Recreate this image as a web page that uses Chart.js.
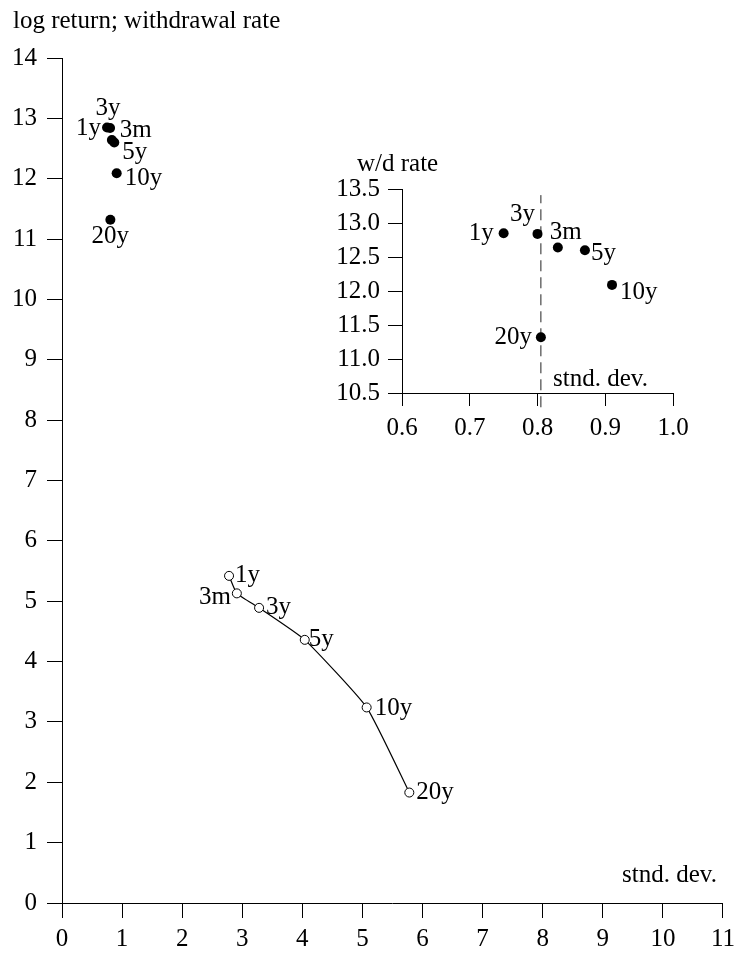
<!DOCTYPE html>
<html>
<head>
<meta charset="utf-8">
<script src="https://cdn.jsdelivr.net/npm/chart.js@4.4.0/dist/chart.umd.min.js"></script>
<style>
html, body { margin: 0; padding: 0; background: #fff; }
#wrap { position: relative; width: 741px; height: 954px; }
#main { position: absolute; left: 0; top: 0; width: 741px; height: 954px; }
#inset { position: absolute; left: 320px; top: 140px; width: 420px; height: 310px; }
</style>
</head>
<body>
<div id="wrap">
	<canvas id="main" width="741" height="954"></canvas>
	<canvas id="inset" width="420" height="310"></canvas>
</div>
<script>
// horizons, in the order the return curve is drawn
const horizons = ['1y', '3m', '3y', '5y', '10y', '20y'];

// log return vs stnd. dev. (open circles, joined)
const returnSd = [2.78, 2.91, 3.28, 4.04, 5.07, 5.78];
const logReturn = [5.42, 5.13, 4.89, 4.36, 3.24, 1.83];

// withdrawal rate vs stnd. dev. (filled dots, also in the inset)
const rateSd = [0.75, 0.83, 0.80, 0.87, 0.91, 0.805];
const wdRate = [12.85, 12.64, 12.84, 12.60, 12.09, 11.32];

// dashed reference line in the inset
const cutoffSd = 0.805;
const cutoffRange = [10.29, 13.41];

const FONT = '25px "Liberation Serif", "DejaVu Serif", serif';

// label placement next to each point: [dx, dy, align]
const returnLabelPos = [[6, 0, 'left'], [-6, 4, 'right'], [7, 0, 'left'], [4, 0, 'left'], [8, 1, 'left'], [7, 0, 'left']];
const rateLabelPosMain = [[-6, 1, 'right'], [8, -10, 'left'], [-2, -20, 'center'], [8, 10, 'left'], [8, 5, 'left'], [0, 17, 'center']];
const rateLabelPosInset = [[-10, 0, 'right'], [-8, -15, 'left'], [-15, -19, 'center'], [6, 3, 'left'], [8, 8, 'left'], [-9, 0, 'right']];

const notesPlugin = {
	id: 'notes',
	afterDatasetsDraw(chart, args, opts) {
		const ctx = chart.ctx;
		ctx.save();
		ctx.fillStyle = '#000';
		ctx.font = FONT;
		chart.data.datasets.forEach((ds, i) => {
			if (!ds.pointLabels) return;
			chart.getDatasetMeta(i).data.forEach((pt, j) => {
				const [dx, dy, align] = ds.labelPos[j];
				ctx.textAlign = align;
				ctx.textBaseline = 'middle';
				ctx.fillText(ds.pointLabels[j], pt.x + dx, pt.y + dy);
			});
		});
		(opts.texts || []).forEach(t => {
			ctx.textAlign = t.align || 'left';
			ctx.textBaseline = 'alphabetic';
			ctx.fillText(t.text, t.x, t.y);
		});
		ctx.restore();
	}
};

function axis(min, max, step, tickLen, pad, digits, fit) {
	return {
		type: 'linear',
		min: min,
		max: max,
		ticks: {
			stepSize: step,
			color: '#000',
			font: { family: '"Liberation Serif", serif', size: 25 },
			padding: pad,
			autoSkip: false,
			maxRotation: 0,
			callback: v => digits ? v.toFixed(digits) : v
		},
		grid: { drawOnChartArea: false, drawTicks: true, tickLength: tickLen, color: '#000', lineWidth: 1 },
		border: { display: true, color: '#000', width: 1 },
		afterFit: fit
	};
}

const pts = (xs, ys) => xs.map((x, i) => ({ x: x, y: ys[i] }));

new Chart(document.getElementById('main'), {
	type: 'scatter',
	data: {
		datasets: [{
			data: pts(returnSd, logReturn),
			showLine: true,
			borderColor: '#000',
			borderWidth: 1.2,
			tension: 0.15,
			pointRadius: 4.5,
			pointBackgroundColor: '#fff',
			pointBorderColor: '#000',
			pointBorderWidth: 1,
			pointLabels: horizons,
			labelPos: returnLabelPos
		}, {
			data: pts(rateSd, wdRate),
			showLine: false,
			pointRadius: 5,
			pointBackgroundColor: '#000',
			pointBorderColor: '#000',
			pointBorderWidth: 0,
			pointLabels: horizons,
			labelPos: rateLabelPosMain
		}]
	},
	options: {
		responsive: false,
		animation: false,
		devicePixelRatio: 1,
		layout: { padding: { left: 0, right: 15, top: 58, bottom: 0 } },
		plugins: {
			legend: { display: false },
			tooltip: { enabled: false },
			notes: {
				texts: [
					{ text: 'log return; withdrawal rate', x: 13, y: 28 },
					{ text: 'stnd. dev.', x: 717, y: 882, align: 'right' }
				]
			}
		},
		scales: {
			x: axis(0, 11, 1, 15, 6, 0, s => { s.height = 51; }),
			y: axis(0, 14, 1, 15, 10, 0, s => { s.width = 62; })
		}
	},
	plugins: [notesPlugin]
});

new Chart(document.getElementById('inset'), {
	type: 'scatter',
	data: {
		datasets: [{
			data: pts(rateSd, wdRate),
			showLine: false,
			pointRadius: 5,
			pointBackgroundColor: '#000',
			pointBorderColor: '#000',
			pointBorderWidth: 0,
			pointLabels: horizons,
			labelPos: rateLabelPosInset
		}, {
			data: cutoffRange.map(y => ({ x: cutoffSd, y: y })),
			showLine: true,
			borderColor: '#222',
			borderWidth: 1,
			borderDash: [11, 6],
			pointRadius: 0,
			clip: false
		}]
	},
	options: {
		responsive: false,
		animation: false,
		devicePixelRatio: 1,
		layout: { padding: { left: 0, right: 67, top: 49, bottom: 0 } },
		plugins: {
			legend: { display: false },
			tooltip: { enabled: false },
			notes: {
				texts: [
					{ text: 'w/d rate', x: 37, y: 31 },
					{ text: 'stnd. dev.', x: 233, y: 246 }
				]
			}
		},
		scales: {
			x: axis(0.6, 1.0, 0.1, 13, 7, 1, s => { s.height = 57; }),
			y: axis(10.5, 13.5, 0.5, 14, 8, 1, s => { s.width = 82; })
		}
	},
	plugins: [notesPlugin]
});
</script>
</body>
</html>
